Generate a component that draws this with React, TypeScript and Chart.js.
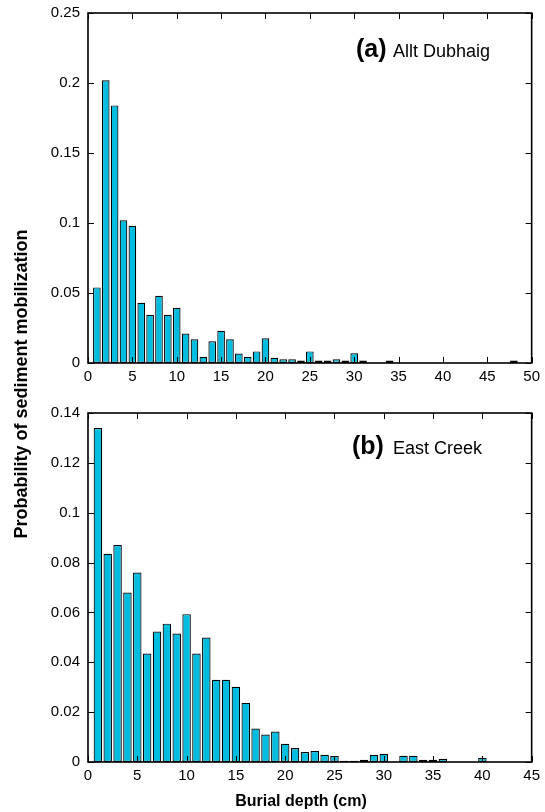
import React, { useEffect, useRef } from 'react';
import { Chart, registerables } from 'chart.js';

Chart.register(...registerables);

const FONT = '"Liberation Sans", Arial, Helvetica, sans-serif';

// Panel (a) Allt Dubhaig
const depthA = [
  1, 2, 3, 4, 5, 6, 7, 8, 9, 10, 11, 12, 13, 14, 15, 16, 17, 18, 19, 20, 21, 22, 23, 24, 25,
  26, 27, 28, 29, 30, 31, 32, 33, 34, 35, 36, 37, 38, 39, 40, 41, 42, 43, 44, 45, 46, 47, 48, 49, 50,
];
const probA = [
  0.054, 0.202, 0.184, 0.102, 0.098, 0.043, 0.0345, 0.048, 0.0345, 0.0395,
  0.021, 0.017, 0.0045, 0.0155, 0.023, 0.017, 0.0068, 0.0045, 0.0083, 0.0176,
  0.0038, 0.0026, 0.0026, 0.0017, 0.0083, 0.0017, 0.0017, 0.0026, 0.0017, 0.0069,
  0.0017, 0, 0, 0.0017, 0, 0, 0, 0, 0, 0,
  0, 0, 0, 0, 0, 0, 0, 0.0017, 0, 0,
];
const xTicksA = [0, 5, 10, 15, 20, 25, 30, 35, 40, 45, 50];
const yTicksA = [0, 0.05, 0.1, 0.15, 0.2, 0.25];

// Panel (b) East Creek
const depthB = [
  1, 2, 3, 4, 5, 6, 7, 8, 9, 10, 11, 12, 13, 14, 15, 16, 17, 18, 19, 20, 21, 22, 23, 24, 25,
  26, 27, 28, 29, 30, 31, 32, 33, 34, 35, 36, 37, 38, 39, 40, 41, 42, 43, 44, 45,
];
const probB = [
  0.134, 0.0835, 0.087, 0.068, 0.076, 0.0435, 0.0523, 0.0555, 0.0515, 0.0593,
  0.0435, 0.0499, 0.033, 0.033, 0.0302, 0.0237, 0.0134, 0.011, 0.0122, 0.0073,
  0.0056, 0.004, 0.0044, 0.0029, 0.0024, 0.0005, 0.0005, 0.0009, 0.0029, 0.0033,
  0, 0.0025, 0.0025, 0.0009, 0.0009, 0.0013, 0, 0, 0, 0.0017,
  0, 0, 0, 0, 0,
];
const xTicksB = [0, 5, 10, 15, 20, 25, 30, 35, 40, 45];
const yTicksB = [0, 0.02, 0.04, 0.06, 0.08, 0.1, 0.12, 0.14];

const yTitle = 'Probability of sediment mobilization';
const xTitle = 'Burial depth (cm)';

const framePlugin = {
  id: 'frame',
  afterDatasetsDraw(chart: any, _args: any, opts: any) {
    const { ctx, chartArea: a, scales } = chart;
    ctx.save();
    ctx.strokeStyle = '#000';
    ctx.lineWidth = 1;
    const L = 6;
    ctx.beginPath();
    scales.x.ticks.forEach((t: any) => {
      const px = Math.round(scales.x.getPixelForValue(t.value)) + 0.5;
      ctx.moveTo(px, a.top);
      ctx.lineTo(px, a.top + L);
      ctx.moveTo(px, a.bottom);
      ctx.lineTo(px, a.bottom - L);
    });
    scales.y.ticks.forEach((t: any) => {
      const py = Math.round(scales.y.getPixelForValue(t.value)) + 0.5;
      ctx.moveTo(a.left, py);
      ctx.lineTo(a.left + L, py);
      ctx.moveTo(a.right, py);
      ctx.lineTo(a.right - L, py);
    });
    ctx.stroke();
    ctx.lineWidth = 1.6;
    ctx.strokeRect(a.left, a.top, a.right - a.left, a.bottom - a.top);
    // panel label
    ctx.fillStyle = '#000';
    ctx.textBaseline = 'alphabetic';
    ctx.textAlign = 'left';
    ctx.font = `bold 25px ${FONT}`;
    ctx.fillText(opts.letter, opts.lx, opts.ly);
    ctx.font = `18px ${FONT}`;
    ctx.fillText(opts.name, opts.nx, opts.ly);
    if (opts.xTitle) {
      ctx.font = `bold 16px ${FONT}`;
      ctx.textAlign = 'center';
      ctx.fillText(opts.xTitle, opts.tx, opts.ty);
    }
    ctx.restore();
  },
};

function fmt(v: number) {
  return String(parseFloat(v.toFixed(3)));
}

function makeConfig(
  depths: number[],
  probs: number[],
  xTicks: number[],
  yTicks: number[],
  padTop: number,
  xHeight: number,
  label: any,
) {
  return {
    type: 'bar' as const,
    data: {
      datasets: [
        {
          data: depths.map((d, i) => ({ x: d, y: probs[i] > 0 ? probs[i] : null })),
          backgroundColor: '#00BDE0',
          borderColor: '#000',
          borderWidth: 1.2,
          borderSkipped: false,
          barPercentage: 1,
          categoryPercentage: 0.86,
        },
      ],
    },
    options: {
      responsive: false,
      animation: false,
      events: [],
      devicePixelRatio: 1,
      layout: { padding: { top: padTop, right: 13, left: 0, bottom: 0 } },
      plugins: {
        legend: { display: false },
        tooltip: { enabled: false },
        frame: label,
      },
      scales: {
        x: {
          type: 'linear',
          min: xTicks[0],
          max: xTicks[xTicks.length - 1],
          offset: false,
          grid: { display: false, drawTicks: false, offset: false },
          border: { display: false },
          afterBuildTicks: (s: any) => {
            s.ticks = xTicks.map((v) => ({ value: v }));
          },
          afterFit: (s: any) => {
            s.height = xHeight;
          },
          ticks: {
            padding: 5,
            color: '#000',
            font: { family: FONT, size: 15 },
            maxRotation: 0,
            autoSkip: false,
            callback: (v: any) => String(v),
          },
        },
        y: {
          type: 'linear',
          min: yTicks[0],
          max: yTicks[yTicks.length - 1],
          grid: { display: false, drawTicks: false },
          border: { display: false },
          afterBuildTicks: (s: any) => {
            s.ticks = yTicks.map((v) => ({ value: v }));
          },
          afterFit: (s: any) => {
            s.width = 88;
          },
          ticks: {
            padding: 8,
            color: '#000',
            font: { family: FONT, size: 15 },
            autoSkip: false,
            callback: (v: any) => fmt(Number(v)),
          },
        },
      },
    },
    plugins: [framePlugin],
  };
}

export default function App() {
  const topRef = useRef<HTMLCanvasElement | null>(null);
  const botRef = useRef<HTMLCanvasElement | null>(null);

  useEffect(() => {
    const c1 = new Chart(
      topRef.current as HTMLCanvasElement,
      makeConfig(depthA, probA, xTicksA, yTicksA, 18, 32, {
        letter: '(a)',
        name: 'Allt Dubhaig',
        lx: 356,
        nx: 393,
        ly: 62,
      }) as any,
    );
    const c2 = new Chart(
      botRef.current as HTMLCanvasElement,
      makeConfig(depthB, probB, xTicksB, yTicksB, 18, 50, {
        letter: '(b)',
        name: 'East Creek',
        lx: 352,
        nx: 393,
        ly: 59,
        xTitle,
        tx: 301,
        ty: 411,
      }) as any,
    );
    return () => {
      c1.destroy();
      c2.destroy();
    };
  }, []);

  return (
    <div
      style={{
        position: 'absolute',
        left: 0,
        top: 0,
        width: 545,
        height: 812,
        background: '#fff',
        overflow: 'hidden',
      }}
    >
      <canvas
        ref={topRef}
        width={545}
        height={400}
        style={{ position: 'absolute', left: 0, top: -5, width: 545, height: 400 }}
      />
      <canvas
        ref={botRef}
        width={545}
        height={417}
        style={{ position: 'absolute', left: 0, top: 395, width: 545, height: 417 }}
      />
      <div
        style={{
          position: 'absolute',
          left: 21 - 200,
          top: 384 - 10,
          width: 400,
          height: 20,
          lineHeight: '20px',
          textAlign: 'center',
          transform: 'rotate(-90deg)',
          transformOrigin: '50% 50%',
          fontFamily: FONT,
          fontWeight: 'bold',
          fontSize: 18,
          color: '#000',
          whiteSpace: 'nowrap',
        }}
      >
        {yTitle}
      </div>
    </div>
  );
}
